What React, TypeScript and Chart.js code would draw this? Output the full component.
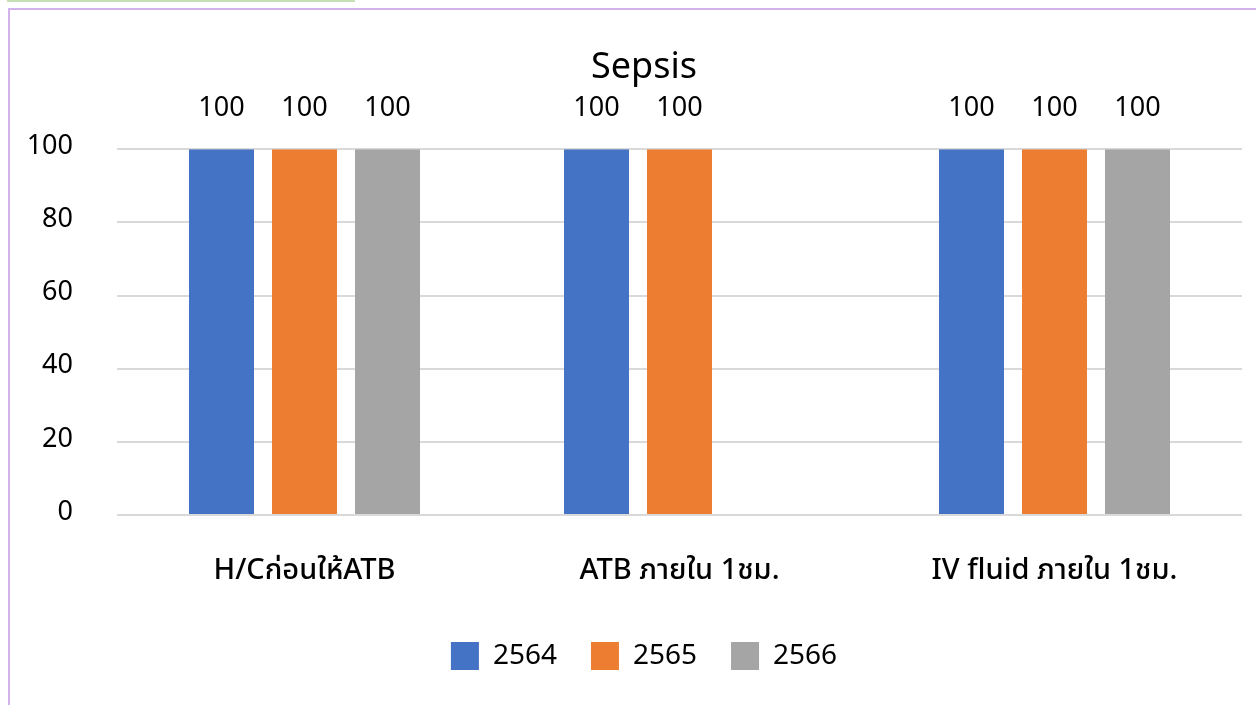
import React, { useEffect, useRef } from "react";
import { Chart, registerables } from "chart.js";

Chart.register(...registerables);

const categories = ["H/Cก่อนให้ATB", "ATB ภายใน 1ชม.", "IV fluid ภายใน 1ชม."];
const series2564 = [100, 100, 100];
const series2565 = [100, 100, 100];
const series2566: (number | null)[] = [100, null, 100];
const seriesLabels = ["2564", "2565", "2566"];
const yTicks = [0, 20, 40, 60, 80, 100];
const titleText = "Sepsis";

const FONT = "'Noto Sans', 'Noto Sans Thai', Tahoma, sans-serif";

const dataLabelPlugin = {
  id: "dataLabels",
  afterDatasetsDraw(chart: any) {
    const ctx = chart.ctx;
    ctx.save();
    ctx.font = `27px ${FONT}`;
    ctx.fillStyle = "#000";
    ctx.textAlign = "center";
    ctx.textBaseline = "middle";
    chart.data.datasets.forEach((ds: any, i: number) => {
      const meta = chart.getDatasetMeta(i);
      meta.data.forEach((el: any, j: number) => {
        const v = ds.data[j];
        if (v === null || v === undefined) return;
        ctx.fillText(String(v), el.x, el.y - 41);
      });
    });
    ctx.restore();
  },
};

export default function App() {
  const ref = useRef<HTMLCanvasElement>(null);
  useEffect(() => {
    if (!ref.current) return;
    const chart = new Chart(ref.current, {
      type: "bar",
      data: {
        labels: categories,
        datasets: [
          { label: seriesLabels[0], data: series2564, backgroundColor: "#4472C4" },
          { label: seriesLabels[1], data: series2565, backgroundColor: "#ED7D31" },
          { label: seriesLabels[2], data: series2566, backgroundColor: "#A5A5A5" },
        ],
      },
      options: {
        animation: false,
        responsive: false,
        layout: { padding: { top: 0, right: 4, bottom: 25, left: 0 } },
        datasets: {
          bar: { categoryPercentage: 0.664, barPercentage: 0.783 },
        },
        scales: {
          x: {
            grid: { display: false, drawTicks: false },
            border: { display: false },
            ticks: {
              color: "#000",
              font: { family: FONT, size: 29, weight: "500" as any },
              padding: 38,
              maxRotation: 0,
              autoSkip: false,
            },
            afterFit: (s: any) => {
              s.height = 93;
            },
          },
          y: {
            min: 0,
            max: 100,
            afterBuildTicks: (s: any) => {
              s.ticks = yTicks.map((v) => ({ value: v }));
            },
            grid: { color: "#d9d9d9", lineWidth: 2, drawTicks: false },
            border: { display: false },
            ticks: {
              color: "#000",
              font: { family: FONT, size: 27 },
              padding: 44,
              labelOffset: -3,
            },
            afterFit: (s: any) => {
              s.width = 107;
            },
          },
          yRight: {
            position: "right",
            display: true,
            grid: { display: false, drawTicks: false },
            border: { display: false },
            ticks: { display: false },
            afterFit: (s: any) => {
              s.width = 36;
            },
          },
        },
        plugins: {
          title: {
            display: true,
            text: titleText,
            color: "#000",
            font: { family: FONT, size: 36, weight: "normal" as any },
            padding: { top: 36, bottom: 60 },
          },
          legend: {
            position: "bottom",
            labels: {
              boxWidth: 28,
              boxHeight: 28,
              padding: 34,
              color: "#000",
              font: { family: FONT, size: 28 },
            },
          },
          tooltip: { enabled: false },
        },
      },
      plugins: [dataLabelPlugin],
    });
    return () => chart.destroy();
  }, []);

  return (
    <div style={{ position: "absolute", left: 0, top: 0, width: 1256, height: 705, overflow: "hidden", background: "#fff" }}>
      <div style={{ position: "absolute", left: 7, top: 0, width: 348, height: 2, background: "#c5e0b4" }} />
      <div
        style={{
          position: "absolute",
          left: 8,
          top: 8,
          width: 1300,
          height: 720,
          border: "2px solid #d2b2ea",
          boxSizing: "border-box",
        }}
      />
      <canvas ref={ref} width={1272} height={695} style={{ position: "absolute", left: 10, top: 10, width: 1272, height: 695 }} />
    </div>
  );
}
